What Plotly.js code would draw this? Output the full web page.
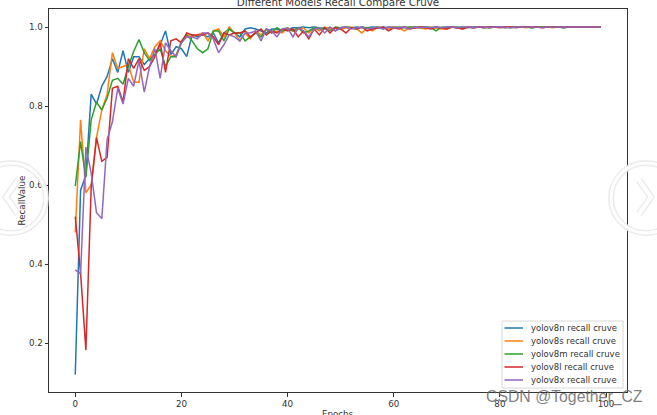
<!DOCTYPE html>
<html>
<head>
<meta charset="utf-8">
<script src="https://cdn.plot.ly/plotly-3.0.1.min.js"></script>
<style>html,body{margin:0;padding:0;background:#fff;overflow:hidden}#c{width:657px;height:415px}</style>
</head>
<body>
<div id="c"></div>
<script>
const seriesNames = ["yolov8n recall cruve","yolov8s recall cruve","yolov8m recall cruve","yolov8l recall cruve","yolov8x recall cruve"];
const seriesColors = ["#1f77b4","#ff7f0e","#2ca02c","#d62728","#9467bd"];
const yolov8n = [0.12,0.587,0.625,0.83,0.805,0.85,0.875,0.92,0.885,0.94,0.885,0.925,0.925,0.905,0.92,0.93,0.955,0.99,0.93,0.95,0.945,0.925,0.98,0.975,0.98,0.975,0.985,0.96,0.985,0.995,0.985,0.975,0.995,0.998,0.995,0.99,0.985,0.995,0.995,0.99,0.995,0.998,0.998,1,0.998,1,0.998,0.995,0.998,0.99,0.998,1,0.998,1,0.998,0.998,1,0.998,1,0.998,1,0.998,1,0.998,0.998,1,1,0.998,1,0.998,1,1,0.998,1,0.998,1,1,0.998,1,1,1,0.998,1,1,1,1,0.998,1,1,1,1,1,0.998,1,1,1,1,1,1,1];
const yolov8s = [0.48,0.765,0.58,0.60,0.72,0.79,0.83,0.935,0.895,0.90,0.905,0.86,0.86,0.945,0.92,0.95,0.965,0.94,0.925,0.93,0.96,0.98,0.975,0.98,0.985,0.965,0.99,0.995,0.975,1,0.985,0.965,0.985,0.97,0.99,0.98,0.995,0.985,0.99,0.985,0.998,0.99,0.995,0.998,0.985,0.998,0.99,1,0.995,0.998,0.995,0.998,1,0.995,0.985,0.998,0.99,1,0.998,0.995,1,0.998,0.99,0.998,1,0.998,0.995,1,0.998,0.995,0.995,1,0.998,0.995,1,0.998,1,1,0.998,1,1,0.998,1,1,1,0.998,1,1,1,1,0.998,1,1,1,1,1,1,1,1,1];
const yolov8m = [0.597,0.71,0.62,0.765,0.81,0.79,0.82,0.865,0.87,0.855,0.90,0.938,0.968,0.935,0.915,0.93,0.945,0.90,0.925,0.925,0.965,0.98,0.965,0.945,0.935,0.945,0.99,0.99,0.965,0.995,0.985,0.985,0.965,0.975,0.985,0.975,0.995,0.985,0.998,0.99,0.995,0.99,0.998,0.985,0.99,0.998,0.995,0.998,0.99,1,0.998,1,0.998,0.995,1,0.998,0.998,1,0.995,1,0.998,1,0.998,1,1,0.998,1,0.998,0.99,1,0.998,1,1,0.998,1,0.998,1,1,0.998,1,1,1,0.998,1,1,1,0.998,1,1,1,1,1,0.998,1,1,1,1,1,1,1];
const yolov8l = [0.52,0.377,0.182,0.595,0.72,0.66,0.67,0.845,0.85,0.81,0.92,0.895,0.92,0.89,0.90,0.925,0.96,0.885,0.965,0.97,0.96,0.985,0.98,0.98,0.98,0.985,0.975,0.955,0.985,0.98,0.985,0.985,0.99,0.975,0.985,0.995,0.98,0.99,0.985,0.995,0.99,0.995,0.975,0.99,0.97,0.995,0.98,0.998,0.985,0.998,0.995,0.985,0.998,0.995,1,0.99,0.995,0.998,1,0.99,0.998,0.995,1,0.995,0.998,1,0.998,0.995,1,0.998,0.995,1,0.998,0.995,1,0.998,1,0.998,1,1,0.998,1,1,0.998,1,1,1,1,0.998,1,1,1,1,1,1,1,1,1,1,1];
const yolov8x = [0.385,0.375,0.696,0.63,0.53,0.515,0.715,0.76,0.845,0.805,0.87,0.85,0.915,0.835,0.90,0.945,0.87,0.96,0.94,0.925,0.96,0.975,0.975,0.97,0.985,0.985,0.97,0.935,0.955,0.98,0.975,0.965,0.985,0.985,0.99,0.965,0.995,0.99,0.975,0.995,0.998,0.975,0.998,0.99,0.975,0.995,0.998,0.985,1,0.99,0.998,1,0.995,0.998,1,0.995,0.998,1,0.995,1,0.998,0.998,1,0.995,1,0.998,1,0.998,1,0.998,1,1,0.998,1,1,0.998,1,1,0.998,1,1,1,0.998,1,1,1,1,1,0.998,1,1,1,1,1,1,1,1,1,1,1,1];
const allSeries = [yolov8n,yolov8s,yolov8m,yolov8l,yolov8x];
const epochs = yolov8n.map((_, i) => i);
const xTicks = [0,20,40,60,80,100];
const yTicks = [0.2,0.4,0.6,0.8,1.0];
const yTickLabels = ["0.2","0.4","0.6","0.8","1.0"];

const W = 657, H = 415, M = {l:49, r:30, t:9, b:23, pad:0};
const px = x => (x - M.l) / (W - M.l - M.r);
const py = y => 1 - (y - M.t) / (H - M.t - M.b);
const font = "'DejaVu Sans', sans-serif";
const ink = "#333";
const fs = 8.7;

function ring(cx) {
  const out = [];
  const mk = (r, color, w) => ({type:'circle', xref:'paper', yref:'paper', layer:'above',
    x0:px(cx-r), x1:px(cx+r), y0:py(198+r), y1:py(198-r), line:{color, width:w}, fillcolor:'rgba(0,0,0,0)'});
  out.push(mk(35, 'rgba(232,232,232,0.85)', 6), mk(35, 'rgb(255,255,255)', 3));
  const dir = cx > W/2 ? 1 : -1;
  const chev = `M ${px(cx-7*dir)} ${py(180)} L ${px(cx+5*dir)} ${py(197)} L ${px(cx-7*dir)} ${py(214)}`;
  const mp = (color, w) => ({type:'path', xref:'paper', yref:'paper', layer:'above', path:chev, line:{color, width:w}});
  out.push(mp('rgba(232,232,232,0.85)', 7), mp('rgb(255,255,255)', 4));
  return out;
}

const legendBox = {type:'rect', xref:'paper', yref:'paper', layer:'above',
  x0:px(502), x1:px(623), y0:py(388), y1:py(321), line:{color:'#d8d8d8', width:1}, fillcolor:'#fff'};
const legendY = i => 328 + 13 * i;
const legendLines = seriesNames.map((_, i) => ({type:'line', xref:'paper', yref:'paper', layer:'above',
  x0:px(504.5), x1:px(523), y0:py(legendY(i)), y1:py(legendY(i)), line:{color:seriesColors[i], width:1.5}}));
const legendTexts = seriesNames.map((t, i) => ({text:t, xref:'paper', yref:'paper', x:px(529), y:py(legendY(i)),
  xanchor:'left', yanchor:'middle', showarrow:false, font:{family:font, size:8.5, color:ink}}));

const traces = allSeries.map((y, i) => ({
  x: epochs, y, name: seriesNames[i], type:'scatter', mode:'lines',
  line:{color:seriesColors[i], width:1.5}
}));

const layout = {
  width:W, height:H, margin:M, paper_bgcolor:'#fff', plot_bgcolor:'#fff', showlegend:false,
  font:{family:font, size:fs, color:ink},
  title:{text:"Different Models Recall Compare Cruve", font:{family:font, size:10.3, color:ink},
    x:0.5145, xanchor:'center', y:1-2/H, yref:'container', yanchor:'middle', automargin:false},
  xaxis:{range:[-4.95,103.95], tickvals:xTicks, ticks:'outside', ticklen:3.5, tickwidth:1, tickcolor:ink,
    showgrid:false, zeroline:false, showline:true, mirror:true, linecolor:ink, linewidth:1,
    tickfont:{family:font, size:fs, color:ink}},
  yaxis:{range:[0.076,1.0456], tickvals:yTicks, ticktext:yTickLabels, ticks:'outside', ticklen:3.5, tickwidth:1, tickcolor:ink,
    showgrid:false, zeroline:false, showline:true, mirror:true, linecolor:ink, linewidth:1,
    tickfont:{family:font, size:fs, color:ink},
    title:{text:"RecallValue", font:{family:font, size:fs, color:ink}, standoff:1}},
  shapes:[...ring(646), ...ring(11), legendBox, ...legendLines],
  annotations:[...legendTexts,
    {text:"Epochs", xref:'paper', yref:'paper', x:px(338), y:py(413.5), xanchor:'center', yanchor:'middle',
     showarrow:false, font:{family:font, size:fs, color:ink}},
    {text:"CSDN @Together_CZ", xref:'paper', yref:'paper', x:px(564), y:py(397), xanchor:'center', yanchor:'middle',
     showarrow:false, font:{family:"'Liberation Sans', sans-serif", size:15.8, color:'rgba(105,105,105,0.85)'}}]
};
Plotly.newPlot('c', traces, layout, {displayModeBar:false, staticPlot:true});
</script>
</body>
</html>
